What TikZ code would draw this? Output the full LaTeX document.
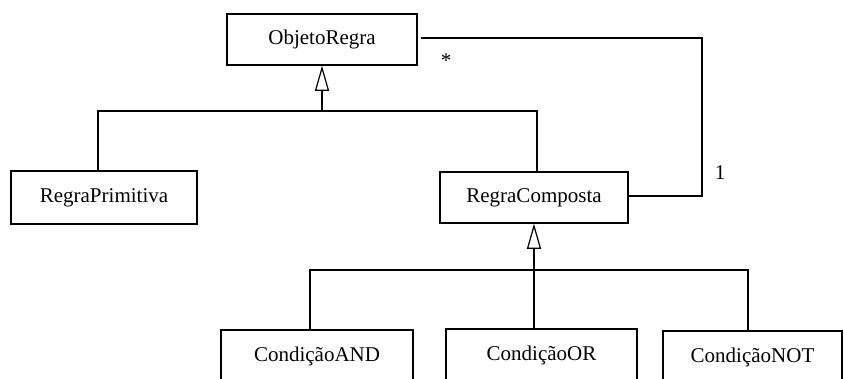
\documentclass[tikz,border=0pt]{standalone}
\usepackage{fontspec}
\setmainfont{Liberation Serif}
\usetikzlibrary{arrows.meta}
\begin{document}
\begin{tikzpicture}[x=1pt,y=-1pt,
  cls/.style={draw,line width=1.5pt,rectangle,inner sep=0pt,
    minimum height=51pt,font=\fontsize{21}{25}\selectfont},
  link/.style={line width=1.1pt},
  gen/.style={line width=1.1pt,-{Triangle[open,length=25pt,width=14pt,line width=1.2pt]}},
  mult/.style={anchor=base,inner sep=0pt,font=\fontsize{21}{25}\selectfont}]
  \clip (0,0) rectangle (844,378);
  \fill[white] (0,0) rectangle (844,378);

  % classes
  \node[cls,minimum width=190pt] (obj) at (322,39.5) {ObjetoRegra};
  \node[cls,minimum width=186pt,minimum height=53pt] (prim) at (104,197.5) {RegraPrimitiva};
  \node[cls,minimum width=188pt] (comp) at (534,197.5) {RegraComposta};
  \node[cls,minimum width=192pt,minimum height=52pt] (cand) at (317,356) {CondiçãoAND};
  \node[cls,minimum width=191pt,minimum height=52pt] (cor) at (541.5,355) {CondiçãoOR};
  \node[cls,minimum width=179pt,minimum height=52pt] (cnot) at (752.5,357) {CondiçãoNOT};

  % first-level inheritance
  \coordinate (j1) at (322,111);
  \coordinate (j1l) at (98,111);
  \coordinate (j1r) at (537,111);
  \draw[gen] (j1) -- (obj.south);
  \draw[link] (prim.north -| j1l) -- (j1l) -- (j1r) -- (comp.north -| j1r);

  % second-level inheritance
  \coordinate (j2) at (534,270);
  \coordinate (j2l) at (310,270);
  \coordinate (j2r) at (748,270);
  \draw[gen] (j2) -- (comp.south);
  \draw[link] (cand.north -| j2l) -- (j2l) -- (j2r) -- (cnot.north -| j2r);
  \draw[link] (j2) -- (cor.north -| j2);

  % composition association
  \coordinate (a1) at (702,38);
  \coordinate (a2) at (702,196);
  \draw[link] ([xshift=3pt]obj.east |- a1) -- (a1) -- (a2) -- (comp.east |- a2);
  \node[mult] (many) at (446,67) {*};
  \node[mult] (one) at (720,179) {1};
\end{tikzpicture}
\end{document}
